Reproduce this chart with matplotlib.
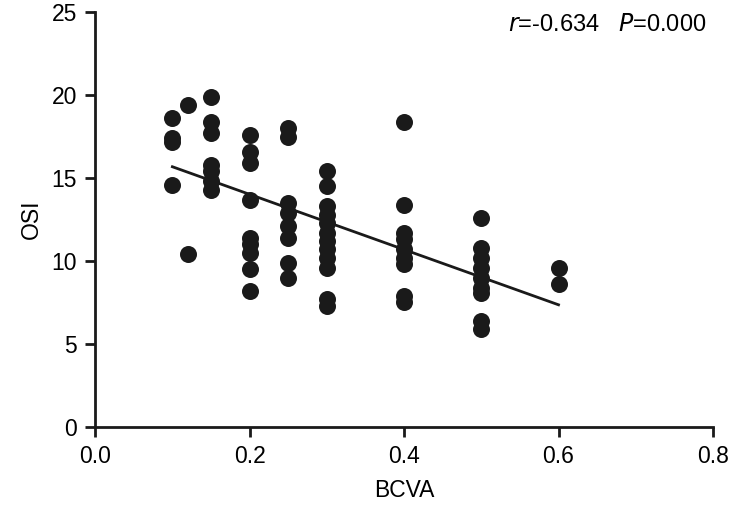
import numpy as np
import matplotlib.pyplot as plt

plt.rcParams['font.family'] = ['Liberation Sans', 'DejaVu Sans']

# BCVA groups and OSI values
bcva_010 = [18.6, 17.4, 17.2, 14.6]
bcva_012 = [19.4, 10.4]
bcva_015 = [19.9, 18.4, 17.7, 15.8, 15.4, 14.8, 14.3]
bcva_020 = [17.6, 16.6, 15.9, 13.7, 11.4, 11.0, 10.5, 9.5, 8.2]
bcva_025 = [18.0, 17.5, 13.5, 12.9, 12.1, 11.4, 9.9, 9.0]
bcva_030 = [15.4, 14.5, 13.3, 12.8, 12.3, 11.7, 11.2, 10.7, 10.2, 9.6, 7.7, 7.3]
bcva_040 = [18.4, 13.4, 11.7, 11.3, 10.7, 10.2, 9.8, 7.9, 7.5]
bcva_050 = [12.6, 10.8, 10.2, 9.6, 9.0, 8.4, 8.1, 6.4, 5.9]
bcva_060 = [9.6, 8.6]

groups = {0.10: bcva_010, 0.12: bcva_012, 0.15: bcva_015, 0.20: bcva_020,
          0.25: bcva_025, 0.30: bcva_030, 0.40: bcva_040, 0.50: bcva_050,
          0.60: bcva_060}

x = np.concatenate([[k] * len(v) for k, v in groups.items()])
y = np.concatenate([v for v in groups.values()])

fig = plt.figure(figsize=(7.32, 5.07), dpi=100)
ax = fig.add_axes([0.13, 0.158, 0.844, 0.818])

ax.scatter(x, y, s=150, color='#1a1a1a', zorder=3, linewidths=0)

# regression line
slope, intercept = np.polyfit(x, y, 1)
xl = np.array([0.1, 0.6])
ax.plot(xl, slope * xl + intercept, color='#1a1a1a', lw=2, zorder=2)

ax.set_xlim(0, 0.8)
ax.set_ylim(0, 25)
ax.set_xticks([0.0, 0.2, 0.4, 0.6, 0.8])
ax.set_xticklabels(['0.0', '0.2', '0.4', '0.6', '0.8'])
ax.set_yticks([0, 5, 10, 15, 20, 25])
ax.spines['top'].set_visible(False)
ax.spines['right'].set_visible(False)
for s in ['left', 'bottom']:
    ax.spines[s].set_linewidth(2)
    ax.spines[s].set_color('#1a1a1a')
ax.tick_params(width=2, length=7, labelsize=16.5, color='#1a1a1a', pad=6)
ax.set_xlabel('BCVA', fontsize=16.5, labelpad=8)
ax.set_ylabel('OSI', fontsize=16.5, labelpad=6)

ax.text(0.99, 0.995, r'$\mathit{r}$=-0.634   $\mathit{P}$=0.000', transform=ax.transAxes,
        ha='right', va='top', fontsize=17)

fig.savefig('out.png', dpi=100)
